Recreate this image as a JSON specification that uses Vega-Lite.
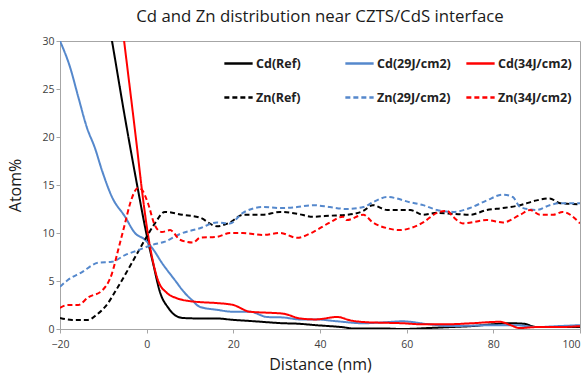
{
  "$schema": "https://vega.github.io/schema/vega-lite/v6.json",
  "width": 520,
  "height": 288,
  "autosize": "none",
  "padding": {"left": 60, "top": 41, "right": 8, "bottom": 45},
  "background": "white",
  "title": {"text": "Cd and Zn distribution near CZTS/CdS interface", "font": "Open Sans", "fontSize": 16.8, "fontWeight": "normal", "color": "#1a1a1a", "anchor": "middle", "offset": 10},
  "config": {
    "view": {"stroke": "#a6a6a6", "strokeWidth": 1},
    "axis": {"labelFont": "Open Sans", "labelFontSize": 10.5, "labelColor": "#404040", "titleFont": "Open Sans", "titleFontSize": 16, "titleFontWeight": "normal", "titleColor": "#1a1a1a", "domainColor": "#a6a6a6", "tickColor": "#a6a6a6", "grid": false, "tickSize": 4, "labelFlush": false}
  },
  "data": {"values": [
    {"s":"Cd(Ref)","x":-10,"y":35.2},{"s":"Cd(Ref)","x":-8,"y":30},{"s":"Cd(Ref)","x":-5,"y":22},{"s":"Cd(Ref)","x":-2,"y":14.5},{"s":"Cd(Ref)","x":0,"y":9.8},{"s":"Cd(Ref)","x":1.5,"y":6.8},{"s":"Cd(Ref)","x":3.1,"y":3.8},{"s":"Cd(Ref)","x":5,"y":2.2},{"s":"Cd(Ref)","x":6.5,"y":1.45},{"s":"Cd(Ref)","x":8.4,"y":1.15},{"s":"Cd(Ref)","x":12,"y":1.1},{"s":"Cd(Ref)","x":16,"y":1.1},{"s":"Cd(Ref)","x":20,"y":0.95},{"s":"Cd(Ref)","x":25,"y":0.8},{"s":"Cd(Ref)","x":31.5,"y":0.6},{"s":"Cd(Ref)","x":35,"y":0.55},{"s":"Cd(Ref)","x":39,"y":0.4},{"s":"Cd(Ref)","x":45,"y":0.2},{"s":"Cd(Ref)","x":48,"y":0.05},{"s":"Cd(Ref)","x":55,"y":0.05},{"s":"Cd(Ref)","x":59,"y":0},{"s":"Cd(Ref)","x":65,"y":0.1},{"s":"Cd(Ref)","x":70,"y":0.2},{"s":"Cd(Ref)","x":75,"y":0.3},{"s":"Cd(Ref)","x":80,"y":0.5},{"s":"Cd(Ref)","x":84,"y":0.6},{"s":"Cd(Ref)","x":87,"y":0.55},{"s":"Cd(Ref)","x":90,"y":0.2},{"s":"Cd(Ref)","x":95,"y":0.2},{"s":"Cd(Ref)","x":100,"y":0.2},
    {"s":"Cd(29J/cm2)","x":-20,"y":30},{"s":"Cd(29J/cm2)","x":-17.7,"y":27.3},{"s":"Cd(29J/cm2)","x":-15.8,"y":24.2},{"s":"Cd(29J/cm2)","x":-13.8,"y":21},{"s":"Cd(29J/cm2)","x":-11.9,"y":18.8},{"s":"Cd(29J/cm2)","x":-10.3,"y":16.5},{"s":"Cd(29J/cm2)","x":-8,"y":13.75},{"s":"Cd(29J/cm2)","x":-5,"y":11.7},{"s":"Cd(29J/cm2)","x":-2.7,"y":10},{"s":"Cd(29J/cm2)","x":-0.4,"y":9.3},{"s":"Cd(29J/cm2)","x":1.5,"y":8.3},{"s":"Cd(29J/cm2)","x":3.5,"y":6.9},{"s":"Cd(29J/cm2)","x":6.5,"y":5.1},{"s":"Cd(29J/cm2)","x":8.8,"y":3.75},{"s":"Cd(29J/cm2)","x":10.5,"y":3},{"s":"Cd(29J/cm2)","x":12.3,"y":2.3},{"s":"Cd(29J/cm2)","x":16.2,"y":2},{"s":"Cd(29J/cm2)","x":20,"y":1.8},{"s":"Cd(29J/cm2)","x":23.8,"y":1.8},{"s":"Cd(29J/cm2)","x":27.8,"y":1.25},{"s":"Cd(29J/cm2)","x":31.5,"y":1.2},{"s":"Cd(29J/cm2)","x":35.4,"y":1.0},{"s":"Cd(29J/cm2)","x":39,"y":1.0},{"s":"Cd(29J/cm2)","x":44,"y":0.8},{"s":"Cd(29J/cm2)","x":50,"y":0.6},{"s":"Cd(29J/cm2)","x":55,"y":0.7},{"s":"Cd(29J/cm2)","x":59,"y":0.8},{"s":"Cd(29J/cm2)","x":65,"y":0.5},{"s":"Cd(29J/cm2)","x":70,"y":0.3},{"s":"Cd(29J/cm2)","x":75,"y":0.35},{"s":"Cd(29J/cm2)","x":80,"y":0.4},{"s":"Cd(29J/cm2)","x":85,"y":0.4},{"s":"Cd(29J/cm2)","x":90,"y":0.2},{"s":"Cd(29J/cm2)","x":95,"y":0.3},{"s":"Cd(29J/cm2)","x":100,"y":0.4},
    {"s":"Cd(34J/cm2)","x":-7,"y":36.8},{"s":"Cd(34J/cm2)","x":-5.2,"y":30},{"s":"Cd(34J/cm2)","x":-2.2,"y":18.8},{"s":"Cd(34J/cm2)","x":-1.1,"y":14.5},{"s":"Cd(34J/cm2)","x":0.5,"y":9.3},{"s":"Cd(34J/cm2)","x":2.6,"y":5.1},{"s":"Cd(34J/cm2)","x":4.7,"y":3.75},{"s":"Cd(34J/cm2)","x":7,"y":3.2},{"s":"Cd(34J/cm2)","x":10,"y":2.9},{"s":"Cd(34J/cm2)","x":12.3,"y":2.8},{"s":"Cd(34J/cm2)","x":16.2,"y":2.7},{"s":"Cd(34J/cm2)","x":20,"y":2.5},{"s":"Cd(34J/cm2)","x":23.8,"y":1.8},{"s":"Cd(34J/cm2)","x":27.8,"y":1.7},{"s":"Cd(34J/cm2)","x":31.5,"y":1.6},{"s":"Cd(34J/cm2)","x":35.4,"y":1.1},{"s":"Cd(34J/cm2)","x":39,"y":1.0},{"s":"Cd(34J/cm2)","x":44,"y":1.25},{"s":"Cd(34J/cm2)","x":47,"y":0.9},{"s":"Cd(34J/cm2)","x":51,"y":0.7},{"s":"Cd(34J/cm2)","x":55,"y":0.65},{"s":"Cd(34J/cm2)","x":59,"y":0.6},{"s":"Cd(34J/cm2)","x":63,"y":0.5},{"s":"Cd(34J/cm2)","x":70,"y":0.5},{"s":"Cd(34J/cm2)","x":75,"y":0.6},{"s":"Cd(34J/cm2)","x":81.5,"y":0.75},{"s":"Cd(34J/cm2)","x":84,"y":0.4},{"s":"Cd(34J/cm2)","x":86,"y":0.1},{"s":"Cd(34J/cm2)","x":90,"y":0.2},{"s":"Cd(34J/cm2)","x":95,"y":0.2},{"s":"Cd(34J/cm2)","x":100,"y":0.3},
    {"s":"Zn(Ref)","x":-20,"y":1.15},{"s":"Zn(Ref)","x":-17.2,"y":0.95},{"s":"Zn(Ref)","x":-13.5,"y":0.95},{"s":"Zn(Ref)","x":-11.5,"y":1.5},{"s":"Zn(Ref)","x":-9.6,"y":2.3},{"s":"Zn(Ref)","x":-6.6,"y":4.4},{"s":"Zn(Ref)","x":-3.4,"y":6.9},{"s":"Zn(Ref)","x":-0.4,"y":9.3},{"s":"Zn(Ref)","x":1.9,"y":11},{"s":"Zn(Ref)","x":4.2,"y":12.2},{"s":"Zn(Ref)","x":8.2,"y":11.9},{"s":"Zn(Ref)","x":12.3,"y":11.6},{"s":"Zn(Ref)","x":16.2,"y":10.7},{"s":"Zn(Ref)","x":19.2,"y":11.1},{"s":"Zn(Ref)","x":22.2,"y":11.9},{"s":"Zn(Ref)","x":26.8,"y":11.9},{"s":"Zn(Ref)","x":30.8,"y":12.2},{"s":"Zn(Ref)","x":34.7,"y":12},{"s":"Zn(Ref)","x":38.4,"y":11.7},{"s":"Zn(Ref)","x":42.3,"y":11.8},{"s":"Zn(Ref)","x":46.2,"y":11.9},{"s":"Zn(Ref)","x":50,"y":12.3},{"s":"Zn(Ref)","x":52.2,"y":12.9},{"s":"Zn(Ref)","x":55.5,"y":12.4},{"s":"Zn(Ref)","x":60.8,"y":12.4},{"s":"Zn(Ref)","x":63.8,"y":11.9},{"s":"Zn(Ref)","x":67,"y":12.1},{"s":"Zn(Ref)","x":70.7,"y":12},{"s":"Zn(Ref)","x":74.6,"y":11.9},{"s":"Zn(Ref)","x":78.5,"y":12.4},{"s":"Zn(Ref)","x":82.2,"y":12.6},{"s":"Zn(Ref)","x":86.2,"y":12.9},{"s":"Zn(Ref)","x":90,"y":13.4},{"s":"Zn(Ref)","x":93,"y":13.6},{"s":"Zn(Ref)","x":95.4,"y":13.1},{"s":"Zn(Ref)","x":100,"y":13.0},
    {"s":"Zn(29J/cm2)","x":-20,"y":4.4},{"s":"Zn(29J/cm2)","x":-18.2,"y":5.1},{"s":"Zn(29J/cm2)","x":-15,"y":5.9},{"s":"Zn(29J/cm2)","x":-11.2,"y":6.9},{"s":"Zn(29J/cm2)","x":-8,"y":7},{"s":"Zn(29J/cm2)","x":-5,"y":7.7},{"s":"Zn(29J/cm2)","x":-2,"y":8.2},{"s":"Zn(29J/cm2)","x":1.2,"y":8.75},{"s":"Zn(29J/cm2)","x":4.2,"y":9.1},{"s":"Zn(29J/cm2)","x":7.7,"y":9.9},{"s":"Zn(29J/cm2)","x":12.3,"y":10.5},{"s":"Zn(29J/cm2)","x":16.2,"y":11.1},{"s":"Zn(29J/cm2)","x":19.2,"y":11},{"s":"Zn(29J/cm2)","x":22.2,"y":12.1},{"s":"Zn(29J/cm2)","x":26.8,"y":12.7},{"s":"Zn(29J/cm2)","x":30.8,"y":12.6},{"s":"Zn(29J/cm2)","x":34.7,"y":12.7},{"s":"Zn(29J/cm2)","x":38.4,"y":12.9},{"s":"Zn(29J/cm2)","x":42.3,"y":12.7},{"s":"Zn(29J/cm2)","x":46.2,"y":12.5},{"s":"Zn(29J/cm2)","x":50,"y":12.7},{"s":"Zn(29J/cm2)","x":52.2,"y":13.2},{"s":"Zn(29J/cm2)","x":55.5,"y":13.75},{"s":"Zn(29J/cm2)","x":60.8,"y":13.2},{"s":"Zn(29J/cm2)","x":63.8,"y":12.9},{"s":"Zn(29J/cm2)","x":67,"y":12.4},{"s":"Zn(29J/cm2)","x":70.7,"y":12.2},{"s":"Zn(29J/cm2)","x":74.6,"y":12.6},{"s":"Zn(29J/cm2)","x":78.5,"y":13.4},{"s":"Zn(29J/cm2)","x":82.2,"y":14},{"s":"Zn(29J/cm2)","x":84.5,"y":13.75},{"s":"Zn(29J/cm2)","x":86.2,"y":12.7},{"s":"Zn(29J/cm2)","x":90,"y":12.4},{"s":"Zn(29J/cm2)","x":93,"y":12.9},{"s":"Zn(29J/cm2)","x":95.4,"y":13.1},{"s":"Zn(29J/cm2)","x":100,"y":13.1},
    {"s":"Zn(34J/cm2)","x":-20,"y":2.2},{"s":"Zn(34J/cm2)","x":-18.2,"y":2.5},{"s":"Zn(34J/cm2)","x":-15.8,"y":2.5},{"s":"Zn(34J/cm2)","x":-13.5,"y":3.3},{"s":"Zn(34J/cm2)","x":-10.3,"y":4},{"s":"Zn(34J/cm2)","x":-8,"y":5.8},{"s":"Zn(34J/cm2)","x":-6.6,"y":8.2},{"s":"Zn(34J/cm2)","x":-5,"y":11},{"s":"Zn(34J/cm2)","x":-3.8,"y":13.1},{"s":"Zn(34J/cm2)","x":-2,"y":14.7},{"s":"Zn(34J/cm2)","x":-1.1,"y":14.5},{"s":"Zn(34J/cm2)","x":0.3,"y":13.1},{"s":"Zn(34J/cm2)","x":1.9,"y":10.8},{"s":"Zn(34J/cm2)","x":3.5,"y":10.1},{"s":"Zn(34J/cm2)","x":5.4,"y":10.3},{"s":"Zn(34J/cm2)","x":7.7,"y":9.3},{"s":"Zn(34J/cm2)","x":10.7,"y":9},{"s":"Zn(34J/cm2)","x":12.3,"y":9.5},{"s":"Zn(34J/cm2)","x":16.2,"y":9.6},{"s":"Zn(34J/cm2)","x":19.2,"y":10},{"s":"Zn(34J/cm2)","x":22.2,"y":10},{"s":"Zn(34J/cm2)","x":26.8,"y":9.8},{"s":"Zn(34J/cm2)","x":30.8,"y":10},{"s":"Zn(34J/cm2)","x":34.7,"y":9.5},{"s":"Zn(34J/cm2)","x":38.4,"y":10.1},{"s":"Zn(34J/cm2)","x":42.3,"y":11.1},{"s":"Zn(34J/cm2)","x":45.3,"y":11.7},{"s":"Zn(34J/cm2)","x":46.2,"y":11.35},{"s":"Zn(34J/cm2)","x":50,"y":11.9},{"s":"Zn(34J/cm2)","x":52.2,"y":11.1},{"s":"Zn(34J/cm2)","x":55.5,"y":10.5},{"s":"Zn(34J/cm2)","x":58.5,"y":10.3},{"s":"Zn(34J/cm2)","x":60.8,"y":10.5},{"s":"Zn(34J/cm2)","x":63.8,"y":11.1},{"s":"Zn(34J/cm2)","x":67,"y":12.1},{"s":"Zn(34J/cm2)","x":69.3,"y":12.3},{"s":"Zn(34J/cm2)","x":70.7,"y":11.7},{"s":"Zn(34J/cm2)","x":73,"y":11},{"s":"Zn(34J/cm2)","x":78.5,"y":11.35},{"s":"Zn(34J/cm2)","x":82.2,"y":11.1},{"s":"Zn(34J/cm2)","x":86.2,"y":11.9},{"s":"Zn(34J/cm2)","x":88.5,"y":12.4},{"s":"Zn(34J/cm2)","x":90.8,"y":11.9},{"s":"Zn(34J/cm2)","x":93.8,"y":11.9},{"s":"Zn(34J/cm2)","x":96,"y":12.2},{"s":"Zn(34J/cm2)","x":100,"y":11.0}
  ]},
  "mark": {"type": "line", "strokeWidth": 2, "clip": true, "interpolate": "monotone"},
  "encoding": {
    "x": {"field": "x", "type": "quantitative", "scale": {"domain": [-20, 100], "nice": false, "zero": false},
      "axis": {"title": "Distance (nm)", "values": [-20, 0, 20, 40, 60, 80, 100], "labelPadding": 6, "titlePadding": 7,
        "labelAlign": {"expr": "datum.value == 100 ? 'right' : 'center'"},
        "labelDx": {"expr": "datum.value == 100 ? 7 : 0"}}},
    "y": {"field": "y", "type": "quantitative", "scale": {"domain": [0, 30], "nice": false},
      "axis": {"title": "Atom%", "values": [0, 5, 10, 15, 20, 25, 30], "titlePadding": 18}},
    "color": {"field": "s", "type": "nominal",
      "scale": {"domain": ["Cd(Ref)", "Cd(29J/cm2)", "Cd(34J/cm2)", "Zn(Ref)", "Zn(29J/cm2)", "Zn(34J/cm2)"],
        "range": ["#000000", "#5588cc", "#ff0000", "#000000", "#5588cc", "#ff0000"]},
      "legend": {"title": null, "orient": "none", "direction": "horizontal", "legendX": 163, "legendY": 7, "columns": 3, "gridAlign": "all",
        "columnPadding": 10, "rowPadding": 12, "symbolType": "stroke", "symbolSize": 800, "symbolStrokeWidth": 2.5,
        "labelFont": "Open Sans", "labelFontSize": 12.5, "labelFontWeight": "bold", "labelColor": "#222222", "labelOffset": 2, "labelLimit": 200}},
    "strokeDash": {"field": "s", "type": "nominal",
      "scale": {"domain": ["Cd(Ref)", "Cd(29J/cm2)", "Cd(34J/cm2)", "Zn(Ref)", "Zn(29J/cm2)", "Zn(34J/cm2)"],
        "range": [[1, 0], [1, 0], [1, 0], [5, 3], [5, 3], [5, 3]]}}
  }
}
